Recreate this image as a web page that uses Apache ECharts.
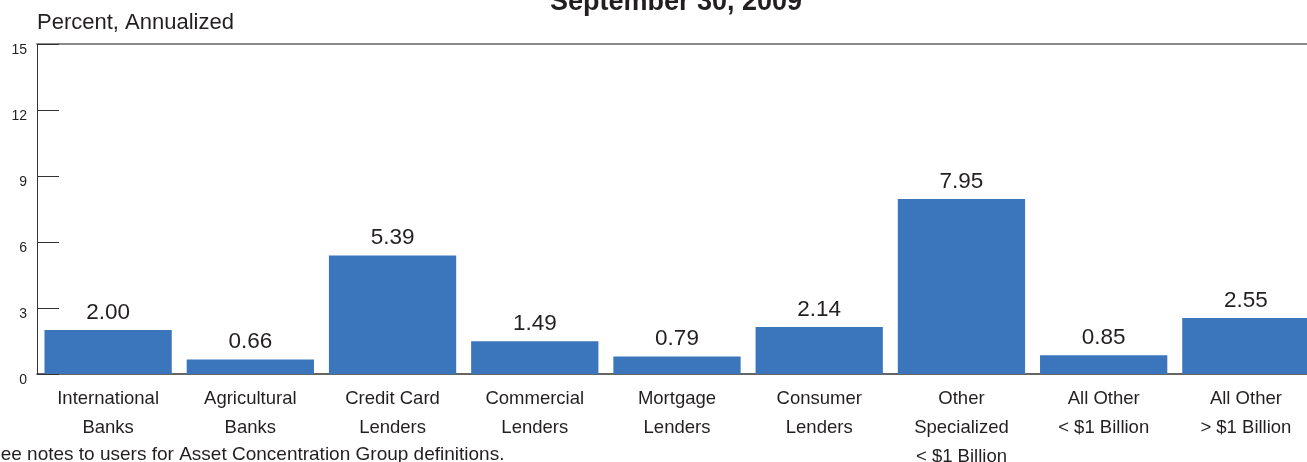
<!DOCTYPE html>
<html>
<head>
<meta charset="utf-8">
<script src="https://cdn.jsdelivr.net/npm/echarts@6/dist/echarts.min.js"></script>
<style>
  html, body { margin: 0; padding: 0; background: #fff; }
  #chart { width: 1307px; height: 462px; }
</style>
</head>
<body>
<div id="chart"></div>
<script>
// Net charge-off rates by asset concentration group
const categories = [
  'International\nBanks',
  'Agricultural\nBanks',
  'Credit Card\nLenders',
  'Commercial\nLenders',
  'Mortgage\nLenders',
  'Consumer\nLenders',
  'Other\nSpecialized\n< $1 Billion',
  'All Other\n< $1 Billion',
  'All Other\n> $1 Billion'
];
const rates = [2.00, 0.66, 5.39, 1.49, 0.79, 2.14, 7.95, 0.85, 2.55];
const yTicks = [0, 3, 6, 9, 12, 15];

const FONT = '"Liberation Sans", Arial, Helvetica, sans-serif';
const INK = '#231f20';
const chart = echarts.init(document.getElementById('chart'), null, { renderer: 'canvas' });

chart.setOption({
  animation: false,
  textStyle: { fontFamily: FONT },
  graphic: [
    {
      type: 'text', x: 676, y: 3,
      style: {
        text: 'September 30, 2009', font: 'bold 27px ' + FONT, fill: INK,
        align: 'center', verticalAlign: 'middle'
      }
    },
    {
      type: 'text', x: 37, y: 23,
      style: {
        text: 'Percent, Annualized', font: '22px ' + FONT, fill: INK,
        align: 'left', verticalAlign: 'middle'
      }
    },
    {
      type: 'text', x: -12, y: 445,
      style: {
        text: 'See notes to users for Asset Concentration Group definitions.',
        font: '19px ' + FONT, fill: INK, align: 'left', verticalAlign: 'top'
      }
    }
  ],
  grid: {
    left: 37, top: 44, width: 1280, height: 330,
    containLabel: false,
    outerBoundsMode: 'none'
  },
  xAxis: [
    {
      type: 'category',
      data: categories,
      axisLine: { lineStyle: { color: '#333', width: 1.5 } },
      axisTick: { show: false },
      axisLabel: {
        interval: 0,
        color: INK,
        fontSize: 18.5,
        lineHeight: 29,
        margin: 10,
        fontFamily: FONT
      }
    },
    {
      type: 'category',
      position: 'top',
      data: categories,
      axisLine: { lineStyle: { color: '#8a8a8a', width: 2 } },
      axisTick: { show: false },
      axisLabel: { show: false }
    }
  ],
  yAxis: {
    type: 'value',
    min: yTicks[0],
    max: yTicks[yTicks.length - 1],
    interval: 3,
    axisLine: { show: true, lineStyle: { color: '#333', width: 1 } },
    axisTick: { show: true, inside: true, length: 22, lineStyle: { color: '#333', width: 1 } },
    splitLine: { show: false },
    axisLabel: {
      color: INK, fontSize: 14, margin: 10, fontFamily: FONT,
      verticalAlign: 'top', lineHeight: 12
    }
  },
  series: [{
    type: 'bar',
    data: rates,
    barCategoryGap: '10.5%',
    itemStyle: { color: '#3b76bc' },
    label: {
      show: true,
      position: 'top',
      distance: 6,
      fontSize: 22.5,
      color: INK,
      fontFamily: FONT,
      formatter: p => p.value.toFixed(2)
    }
  }]
});
</script>
</body>
</html>
